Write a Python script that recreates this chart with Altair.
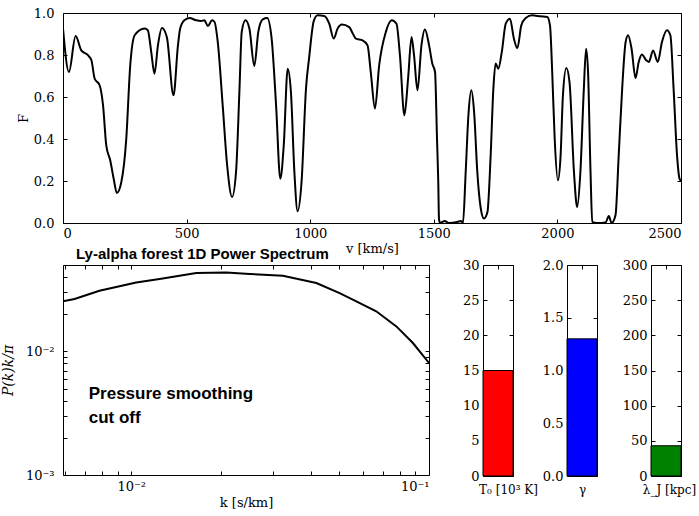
import altair as alt
import pandas as pd

# ---------------- data ----------------
velocity = [0, 24, 51, 74, 101, 115, 128, 148, 162, 175, 191, 205, 218, 236, 256, 272, 290,
            330, 343, 357, 370, 384, 400, 420, 447, 465, 474, 491, 512, 539, 559, 572, 586,
            603, 613, 626, 646, 664, 684, 700, 714, 723, 738, 754, 774, 790, 808, 826, 844,
            862, 879, 893, 909, 922, 936, 949, 965, 983, 996, 1014, 1030, 1057, 1077, 1095,
            1111, 1128, 1158, 1169, 1185, 1212, 1232, 1245, 1262, 1279, 1306, 1330, 1349,
            1363, 1381, 1396, 1410, 1420, 1434, 1450, 1464, 1481, 1494, 1505, 1513, 1518,
            1521, 1525, 1545, 1560, 1595, 1610, 1618, 1629, 1640, 1652, 1663, 1676, 1690,
            1703, 1717, 1730, 1741, 1750, 1761, 1775, 1791, 1808, 1824, 1838, 1854, 1872,
            1898, 1932, 1959, 1970, 1979, 1989, 2002, 2013, 2022, 2036, 2049, 2067, 2080,
            2093, 2107, 2116, 2124, 2134, 2141, 2160, 2195, 2208, 2219, 2235, 2248, 2262,
            2276, 2286, 2300, 2316, 2329, 2342, 2359, 2370, 2387, 2406, 2423, 2443, 2457,
            2470, 2484, 2494, 2500]
flux = [0.926, 0.719, 0.890, 0.822, 0.799, 0.775, 0.688, 0.656, 0.560, 0.370, 0.299, 0.211,
        0.143, 0.195, 0.402, 0.751, 0.894, 0.926, 0.918, 0.814, 0.711, 0.846, 0.929, 0.886,
        0.608, 0.846, 0.926, 0.965, 0.976, 0.965, 0.962, 0.965, 0.938, 0.965, 0.957, 0.862,
        0.560, 0.275, 0.124, 0.243, 0.640, 0.910, 0.965, 0.926, 0.748, 0.910, 0.970, 0.976,
        0.878, 0.560, 0.211, 0.370, 0.735, 0.624, 0.243, 0.056, 0.195, 0.640, 0.790, 0.960,
        0.989, 0.986, 0.949, 0.878, 0.926, 0.945, 0.933, 0.910, 0.878, 0.870, 0.846, 0.719,
        0.545, 0.751, 0.910, 0.965, 0.949, 0.799, 0.513, 0.688, 0.886, 0.799, 0.632, 0.846,
        0.922, 0.846, 0.759, 0.719, 0.400, 0.200, 0.020, 0.0, 0.010, 0.0, 0.005, 0.010, 0.0,
        0.243, 0.513, 0.632, 0.529, 0.243, 0.069, 0.021, 0.052, 0.322, 0.640, 0.759, 0.735,
        0.814, 0.949, 0.973, 0.878, 0.833, 0.941, 0.976, 0.989, 0.984, 0.981, 0.941, 0.719,
        0.402, 0.203, 0.322, 0.600, 0.738, 0.671, 0.243, 0.076, 0.243, 0.640, 0.830, 0.719,
        0.243, 0.005, 0.0, 0.003, 0.033, 0.0, 0.037, 0.322, 0.640, 0.862, 0.894, 0.830, 0.690,
        0.767, 0.802, 0.775, 0.767, 0.822, 0.767, 0.862, 0.918, 0.894, 0.640, 0.322, 0.211,
        0.200]

k_values = [0.00589, 0.00645, 0.00782, 0.01039, 0.01245, 0.01654, 0.02085, 0.02497, 0.03231,
            0.04184, 0.0501, 0.0570, 0.0665, 0.0777, 0.0883, 0.1]
power = [0.02538, 0.02654, 0.03097, 0.03614, 0.03856, 0.04305, 0.04357, 0.04227, 0.04093,
         0.03573, 0.02965, 0.02538, 0.0211, 0.01593, 0.01169, 0.00806]

param_titles = ["T₀ [10³ K]", "γ", "λ_J [kpc]"]
param_title_x = [25, 15, 18]
param_values = [15, 1.3, 43]
param_max = [30, 2.0, 300]
param_ticks = [[0, 5, 10, 15, 20, 25, 30],
               [0.0, 0.5, 1.0, 1.5, 2.0],
               [0, 50, 100, 150, 200, 250, 300]]
param_formats = ["d", ".1f", "d"]
param_colors = ["#ff0000", "#0000ff", "#008000"]

v_ticks = [0, 500, 1000, 1500, 2000, 2500]
f_ticks = [0.0, 0.2, 0.4, 0.6, 0.8, 1.0]
k_ticks = [0.006, 0.007, 0.008, 0.009, 0.01, 0.02, 0.03, 0.04, 0.05, 0.06, 0.07, 0.08, 0.09, 0.1]
p_ticks = [0.001, 0.002, 0.003, 0.004, 0.005, 0.006, 0.007, 0.008, 0.009, 0.01, 0.02, 0.03, 0.04, 0.05]

note_k = [0.0072]
note_p = [0.00412]
note_text = [["Pressure smoothing", "cut off"]]

SERIF = "DejaVu Serif"
TICK = 4

# ---------------- top panel ----------------
top_df = pd.DataFrame({"v": velocity, "F": flux})
vscale = alt.Scale(domain=[0, 2500], nice=False, zero=False)
fscale = alt.Scale(domain=[0, 1], nice=False)

top_line = alt.Chart(top_df).mark_line(color="black", strokeWidth=2, interpolate="monotone", clip=True).encode(
    x=alt.X("v:Q", scale=vscale,
            axis=alt.Axis(values=v_ticks, format="d", title="v [km/s]", offset=-TICK, tickSize=TICK,
                          labelPadding=4, titlePadding=2)),
    y=alt.Y("F:Q", scale=fscale,
            axis=alt.Axis(values=f_ticks, format=".1f", title="F", offset=-TICK, tickSize=TICK,
                          labelPadding=9, titlePadding=3)),
)
top_mirror = alt.Chart(top_df).mark_line(opacity=0).encode(
    x=alt.X("v:Q", scale=vscale,
            axis=alt.Axis(orient="top", values=v_ticks, labels=False, title=None, offset=-TICK, tickSize=TICK)),
    y=alt.Y("F:Q", scale=fscale,
            axis=alt.Axis(orient="right", values=f_ticks, labels=False, title=None, offset=-TICK, tickSize=TICK)),
)
top = alt.layer(top_line, top_mirror).resolve_axis(x="independent", y="independent").properties(
    width=618, height=210)

# ---------------- power spectrum ----------------
ps_df = pd.DataFrame({"k": k_values, "P": power})
note_df = pd.DataFrame({"k": note_k, "P": note_p, "t": note_text})
kscale = alt.Scale(type="log", domain=[0.0059, 0.1], nice=False)
pscale = alt.Scale(type="log", domain=[0.001, 0.05], nice=False)
k_label = "datum.value == 0.01 ? '10⁻²' : datum.value == 0.1 ? '10⁻¹' : ''"
p_label = "datum.value == 0.001 ? '10⁻³' : datum.value == 0.01 ? '10⁻²' : ''"

ps_line = alt.Chart(ps_df).mark_line(color="black", strokeWidth=2, clip=True).encode(
    x=alt.X("k:Q", scale=kscale,
            axis=alt.Axis(values=k_ticks, labelExpr=k_label, title="k [s/km]", offset=-TICK, tickSize=TICK,
                          labelPadding=5, titlePadding=3)),
    y=alt.Y("P:Q", scale=pscale,
            axis=alt.Axis(values=p_ticks, labelExpr=p_label, title="P(k)k/π", offset=-TICK, tickSize=TICK,
                          labelPadding=9, titlePadding=10, titleFontStyle="italic", titleFontSize=14)),
)
ps_mirror = alt.Chart(ps_df).mark_line(opacity=0).encode(
    x=alt.X("k:Q", scale=kscale,
            axis=alt.Axis(orient="top", values=k_ticks, labels=False, title=None, offset=-TICK, tickSize=TICK)),
    y=alt.Y("P:Q", scale=pscale,
            axis=alt.Axis(orient="right", values=p_ticks, labels=False, title=None, offset=-TICK, tickSize=TICK)),
)
ps_note = alt.Chart(note_df).mark_text(
    font="Liberation Sans", fontSize=17, fontWeight="bold", align="left", baseline="alphabetic",
    lineHeight=24, color="black").encode(
    x=alt.X("k:Q", scale=kscale, axis=None), y=alt.Y("P:Q", scale=pscale, axis=None), text="t")

ps = alt.layer(ps_line, ps_mirror, ps_note).resolve_axis(x="independent", y="independent").properties(
    width=366, height=210,
    title=alt.TitleParams("Ly-alpha forest 1D Power Spectrum", anchor="start", frame="group", dx=13,
                          offset=3, font="Liberation Sans", fontSize=15, fontWeight="bold", color="black"))

# ---------------- parameter bars ----------------
bars = []
for title, tx, val, vmax, ticks, fmt, col in zip(param_titles, param_title_x, param_values, param_max,
                                                 param_ticks, param_formats, param_colors):
    bdf = pd.DataFrame({"c": ["p"], "val": [val]})
    xs = alt.Scale(paddingInner=0, paddingOuter=0)
    ys = alt.Scale(domain=[0, vmax], nice=False)
    b = alt.Chart(bdf).mark_bar(color=col, stroke="black", strokeWidth=1).encode(
        x=alt.X("c:N", scale=xs,
                axis=alt.Axis(labels=False, title=title, offset=-TICK, tickSize=TICK, titlePadding=8,
                              titleX=tx, titleAlign="center", titleFontSize=12)),
        y=alt.Y("val:Q", scale=ys,
                axis=alt.Axis(values=ticks, format=fmt, title=None, offset=-TICK, tickSize=TICK,
                              labelPadding=4)),
    )
    bm = alt.Chart(bdf).mark_bar(opacity=0).encode(
        x=alt.X("c:N", scale=xs,
                axis=alt.Axis(orient="top", labels=False, title=None, offset=-TICK, tickSize=TICK)),
        y=alt.Y("val:Q", scale=ys,
                axis=alt.Axis(orient="right", values=ticks, labels=False, title=None, offset=-TICK,
                              tickSize=TICK)),
    )
    bars.append(alt.layer(b, bm).resolve_axis(x="independent", y="independent").properties(
        width=30, height=211))

bottom = alt.hconcat(ps, *bars, spacing=54, bounds="flush")

chart = alt.vconcat(top, bottom, spacing=42, bounds="flush").properties(
    autosize=alt.AutoSizeParams(type="none"),
    padding={"left": 63, "top": 13, "right": 636, "bottom": 503},
    background="white",
).configure_view(stroke="black", strokeWidth=1).configure_axis(
    domain=False, grid=False, tickColor="black", tickWidth=1,
    labelFont=SERIF, labelFontSize=13, labelColor="black",
    titleFont=SERIF, titleFontSize=13, titleFontWeight="normal", titleColor="black",
)

chart.save("out.html", embed_options={"renderer": "svg", "actions": False})
